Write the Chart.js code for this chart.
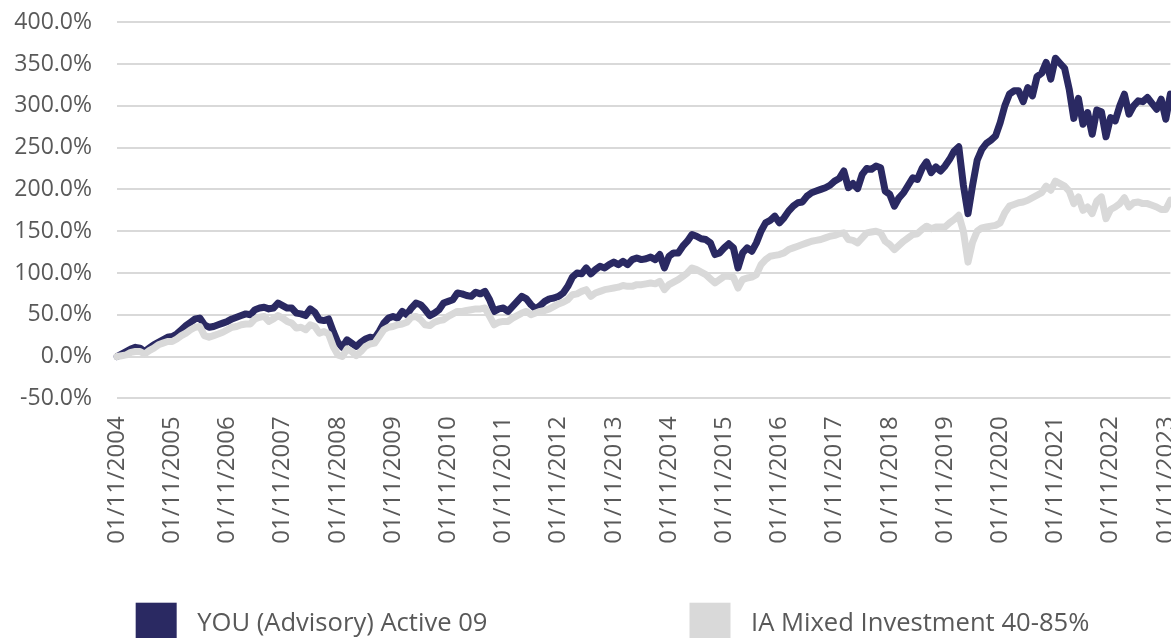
<!DOCTYPE html>
<html>
<head>
<meta charset="utf-8">
<script src="https://cdn.jsdelivr.net/npm/chart.js@4.4.1/dist/chart.umd.min.js"></script>
<style>
  html, body { margin: 0; padding: 0; background: #ffffff; overflow: hidden; }
  #wrap { width: 1225px; height: 660px; }
</style>
</head>
<body>
<div id="wrap"><canvas id="chart" width="1225" height="660"></canvas></div>
<script>
// ---- categories (monthly observations) ----
const categories = [
  "01/11/2004","01/12/2004",
  "01/01/2005","01/02/2005","01/03/2005","01/04/2005","01/05/2005","01/06/2005","01/07/2005","01/08/2005","01/09/2005","01/10/2005","01/11/2005","01/12/2005",
  "01/01/2006","01/02/2006","01/03/2006","01/04/2006","01/05/2006","01/06/2006","01/07/2006","01/08/2006","01/09/2006","01/10/2006","01/11/2006","01/12/2006",
  "01/01/2007","01/02/2007","01/03/2007","01/04/2007","01/05/2007","01/06/2007","01/07/2007","01/08/2007","01/09/2007","01/10/2007","01/11/2007","01/12/2007",
  "01/01/2008","01/02/2008","01/03/2008","01/04/2008","01/05/2008","01/06/2008","01/07/2008","01/08/2008","01/09/2008","01/10/2008","01/11/2008","01/12/2008",
  "01/01/2009","01/02/2009","01/03/2009","01/04/2009","01/05/2009","01/06/2009","01/07/2009","01/08/2009","01/09/2009","01/10/2009","01/11/2009","01/12/2009",
  "01/01/2010","01/02/2010","01/03/2010","01/04/2010","01/05/2010","01/06/2010","01/07/2010","01/08/2010","01/09/2010","01/10/2010","01/11/2010","01/12/2010",
  "01/01/2011","01/02/2011","01/03/2011","01/04/2011","01/05/2011","01/06/2011","01/07/2011","01/08/2011","01/09/2011","01/10/2011","01/11/2011","01/12/2011",
  "01/01/2012","01/02/2012","01/03/2012","01/04/2012","01/05/2012","01/06/2012","01/07/2012","01/08/2012","01/09/2012","01/10/2012","01/11/2012","01/12/2012",
  "01/01/2013","01/02/2013","01/03/2013","01/04/2013","01/05/2013","01/06/2013","01/07/2013","01/08/2013","01/09/2013","01/10/2013","01/11/2013","01/12/2013",
  "01/01/2014","01/02/2014","01/03/2014","01/04/2014","01/05/2014","01/06/2014","01/07/2014","01/08/2014","01/09/2014","01/10/2014","01/11/2014","01/12/2014",
  "01/01/2015","01/02/2015","01/03/2015","01/04/2015","01/05/2015","01/06/2015","01/07/2015","01/08/2015","01/09/2015","01/10/2015","01/11/2015","01/12/2015",
  "01/01/2016","01/02/2016","01/03/2016","01/04/2016","01/05/2016","01/06/2016","01/07/2016","01/08/2016","01/09/2016","01/10/2016","01/11/2016","01/12/2016",
  "01/01/2017","01/02/2017","01/03/2017","01/04/2017","01/05/2017","01/06/2017","01/07/2017","01/08/2017","01/09/2017","01/10/2017","01/11/2017","01/12/2017",
  "01/01/2018","01/02/2018","01/03/2018","01/04/2018","01/05/2018","01/06/2018","01/07/2018","01/08/2018","01/09/2018","01/10/2018","01/11/2018","01/12/2018",
  "01/01/2019","01/02/2019","01/03/2019","01/04/2019","01/05/2019","01/06/2019","01/07/2019","01/08/2019","01/09/2019","01/10/2019","01/11/2019","01/12/2019",
  "01/01/2020","01/02/2020","01/03/2020","01/04/2020","01/05/2020","01/06/2020","01/07/2020","01/08/2020","01/09/2020","01/10/2020","01/11/2020","01/12/2020",
  "01/01/2021","01/02/2021","01/03/2021","01/04/2021","01/05/2021","01/06/2021","01/07/2021","01/08/2021","01/09/2021","01/10/2021","01/11/2021","01/12/2021",
  "01/01/2022","01/02/2022","01/03/2022","01/04/2022","01/05/2022","01/06/2022","01/07/2022","01/08/2022","01/09/2022","01/10/2022","01/11/2022","01/12/2022",
  "01/01/2023","01/02/2023","01/03/2023","01/04/2023","01/05/2023","01/06/2023","01/07/2023","01/08/2023","01/09/2023","01/10/2023","01/11/2023","01/12/2023"
];

// ---- x-axis tick labels shown ----
const tickLabels = [
  "01/11/2004","01/11/2005","01/11/2006","01/11/2007","01/11/2008","01/11/2009","01/11/2010",
  "01/11/2011","01/11/2012","01/11/2013","01/11/2014","01/11/2015","01/11/2016","01/11/2017",
  "01/11/2018","01/11/2019","01/11/2020","01/11/2021","01/11/2022","01/11/2023"
];

// ---- series (cumulative % growth) ----
const seriesNames = ["YOU (Advisory) Active 09", "IA Mixed Investment 40-85%"];

const activeValues = [
  0,3,6,9,11,10,6,10,14,17,20,23,
  24,27,32,37,41,45,46,38,35,36,38,40,
  42,45,47,49,51,50,56,58,59,57,58,64,
  61,58,58,52,51,49,57,53,44,43,45,30,
  17,11,20,16,12,17,21,23,22,30,40,46,
  48,46,54,50,58,64,62,56,49,52,56,64,
  66,68,76,75,73,72,77,75,78,68,54,57,
  58,54,60,66,72,69,62,57,61,66,69,70,
  72,76,84,95,100,99,106,99,104,108,106,110,
  113,110,114,110,116,118,116,117,119,116,122,106,
  120,124,124,132,138,146,144,141,140,136,122,124,
  130,135,130,106,124,130,126,136,150,160,163,168,
  160,166,174,180,184,185,192,196,198,200,202,205,
  210,213,222,202,207,201,218,225,224,228,226,198,
  194,180,190,196,205,214,212,225,233,220,227,222,
  228,236,246,251,205,171,205,235,248,255,259,264,
  280,300,314,318,318,305,322,312,335,339,352,332,
  357,351,345,320,285,309,278,292,266,295,293,263,
  286,282,300,314,290,300,306,305,310,303,296,308,
  284,314
];

const sectorValues = [
  0,1,2,5,6,6,3,7,10,14,16,18,
  18,21,25,28,32,35,36,25,23,25,27,29,
  32,35,36,38,39,39,45,47,48,42,45,49,
  46,42,40,34,35,32,38,36,28,30,27,12,
  2,0,9,6,1,6,12,15,16,24,32,35,
  36,38,39,41,47,48,44,38,37,41,43,44,
  48,51,54,54,55,56,57,57,58,48,38,41,
  42,42,46,49,52,54,50,52,54,55,57,60,
  63,65,68,74,75,78,80,72,76,78,80,81,
  82,83,85,84,84,86,86,87,88,87,90,80,
  86,89,92,96,100,106,104,101,98,93,88,92,
  96,96,95,82,92,94,95,98,110,116,120,121,
  122,124,128,130,132,134,136,138,139,140,142,144,
  145,147,148,140,139,136,142,148,149,150,148,138,
  134,128,133,138,142,146,147,152,156,153,155,155,
  155,160,164,169,150,113,137,150,154,155,156,157,
  160,172,180,182,184,185,187,190,193,196,204,199,
  210,207,204,198,183,191,175,179,171,186,191,165,
  176,179,183,190,179,184,185,183,183,181,179,176,
  176,187
];

// ---- y axis range ----
const yMin = -50, yMax = 400, yStep = 50;

const COLORS = ["#2a2962", "#d9d9d9"];
const TEXT = "#595959";
const FONT = "'Open Sans', 'Noto Sans', sans-serif";

// custom bottom legend drawn on the canvas
const bottomLegend = {
  id: 'bottomLegend',
  afterDraw(chart, args, opts) {
    const ctx = chart.ctx;
    ctx.save();
    ctx.font = opts.fontSize + "px " + FONT;
    const items = chart.data.datasets.map(ds => ({
      text: ds.label, color: ds.borderColor,
      w: opts.box + opts.textGap + ctx.measureText(ds.label).width
    }));
    const total = items.reduce((s, it) => s + it.w, 0) + opts.itemGap * (items.length - 1);
    let x = chart.width / 2 - total / 2;
    ctx.textBaseline = 'middle';
    ctx.textAlign = 'left';
    items.forEach(it => {
      ctx.fillStyle = it.color;
      ctx.fillRect(x, opts.top, opts.box, opts.box);
      ctx.fillStyle = TEXT;
      ctx.fillText(it.text, x + opts.box + opts.textGap, opts.top + opts.box / 2 + 1);
      x += it.w + opts.itemGap;
    });
    ctx.restore();
  }
};

new Chart(document.getElementById('chart'), {
  type: 'line',
  data: {
    labels: categories,
    datasets: [
      {
        label: seriesNames[0],
        data: activeValues,
        borderColor: COLORS[0],
        backgroundColor: COLORS[0],
        borderWidth: 7,
        pointRadius: 0,
        tension: 0,
        borderJoinStyle: 'round',
        borderCapStyle: 'round',
        fill: false,
        order: 1
      },
      {
        label: seriesNames[1],
        data: sectorValues,
        borderColor: COLORS[1],
        backgroundColor: COLORS[1],
        borderWidth: 7,
        pointRadius: 0,
        tension: 0,
        borderJoinStyle: 'round',
        borderCapStyle: 'round',
        fill: false,
        order: 0
      }
    ]
  },
  options: {
    responsive: false,
    animation: false,
    devicePixelRatio: 1,
    layout: { padding: { top: 22.3, right: 54.6, bottom: 0, left: 0 } },
    plugins: {
      legend: { display: false },
      tooltip: { enabled: false },
      bottomLegend: { top: 602.7, box: 41, textGap: 20.5, itemGap: 202, fontSize: 25.6 }
    },
    scales: {
      x: {
        type: 'category',
        offset: false,
        grid: { display: false, drawTicks: false },
        border: { display: false },
        afterFit(scale) { scale.height = 660 - 398.3; },
        ticks: {
          autoSkip: false,
          minRotation: 90,
          maxRotation: 90,
          padding: 18,
          color: TEXT,
          font: { family: FONT, size: 24 },
          callback(value) {
            const lab = this.getLabelForValue(value);
            return tickLabels.includes(lab) ? lab : '';
          }
        }
      },
      y: {
        min: yMin,
        max: yMax,
        grid: { color: '#d9d9d9', lineWidth: 2, drawTicks: false },
        border: { display: false },
        afterFit(scale) {
          scale.width = 117;
          scale.paddingTop = 0;
          scale.paddingBottom = 0;
        },
        ticks: {
          stepSize: yStep,
          padding: 25,
          color: TEXT,
          font: { family: FONT, size: 23 },
          callback: v => v.toFixed(1) + '%'
        }
      }
    }
  },
  plugins: [bottomLegend]
});
</script>
</body>
</html>
